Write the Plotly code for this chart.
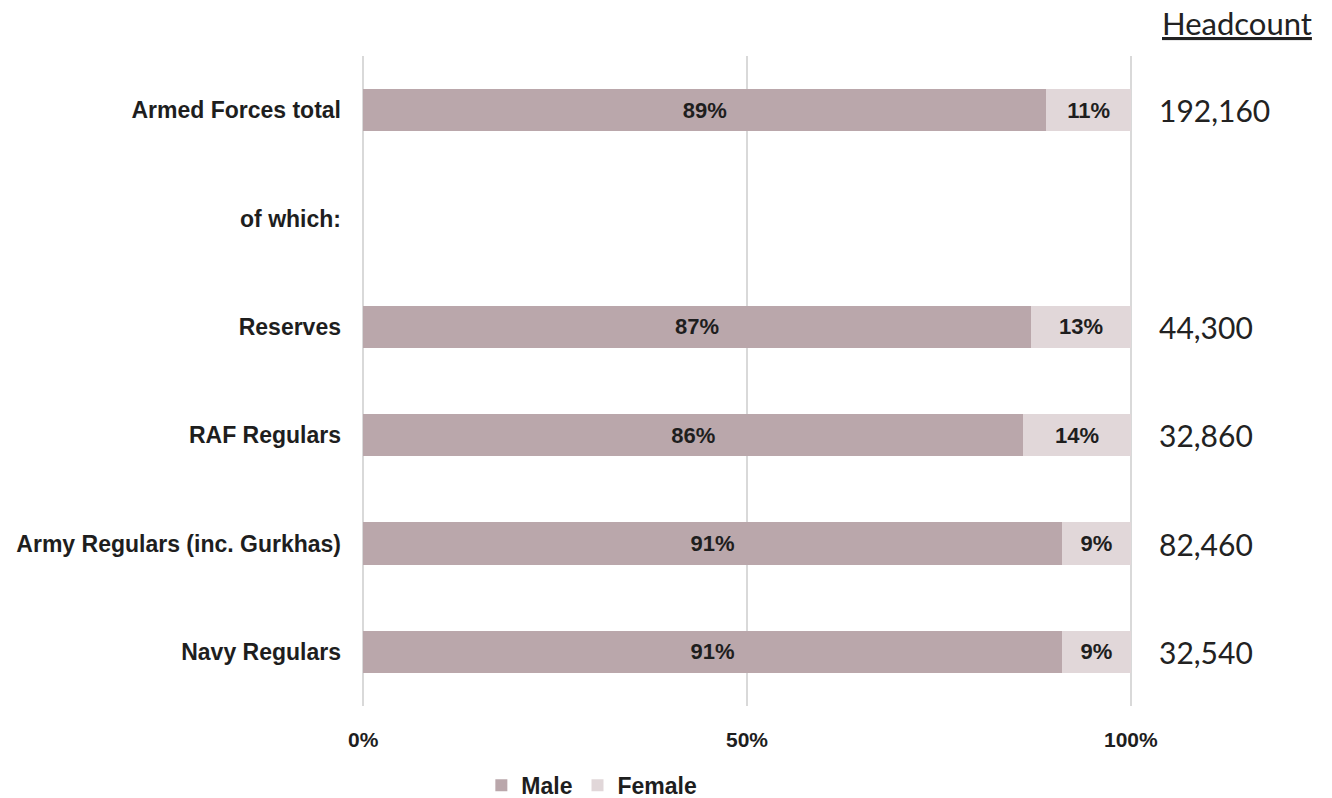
import plotly.graph_objects as go

categories = ["Armed Forces total", "of which:", "Reserves", "RAF Regulars",
              "Army Regulars (inc. Gurkhas)", "Navy Regulars"]
male = [89, None, 87, 86, 91, 91]
female = [11, None, 13, 14, 9, 9]
headcount = ["192,160", "", "44,300", "32,860", "82,460", "32,540"]
x_ticks = [0, 50, 100]
x_tick_labels = ["0%", "50%", "100%"]

MALE_C = "#BAA7AB"
FEMALE_C = "#E1D7D9"
BOLD = "Liberation Sans, Arial, sans-serif"

fig = go.Figure()
for name, vals, col in [("Male", male, MALE_C), ("Female", female, FEMALE_C)]:
    fig.add_trace(go.Bar(
        name=f"<b>{name}</b>", y=categories, x=vals, orientation="h", marker_color=col,
        marker_line_width=0, width=0.39,
        text=[f"<b>{v}%</b>" if v is not None else "" for v in vals],
        textposition="inside", insidetextanchor="middle", textangle=0,
        constraintext="none",
        textfont=dict(family=BOLD, size=22, color="#1e1e1e"),
        hoverinfo="skip",
    ))

for c, h in zip(categories, headcount):
    if h:
        fig.add_annotation(x=1.032, xref="paper", y=c, yref="y", text=h,
                           showarrow=False, xanchor="left", yanchor="middle",
                           font=dict(family="Lato, sans-serif", size=30, color="#222222"))

fig.add_annotation(x=1.236, xref="paper", y=1.05, yref="paper",
                   text='<span style="text-decoration:underline">Headcount</span>',
                   showarrow=False, xanchor="right", yanchor="middle",
                   font=dict(family="Lato, sans-serif", size=31, color="#222222"))

fig.update_layout(
    barmode="stack",
    width=1332, height=798,
    margin=dict(l=362, r=200, t=56, b=92, autoexpand=False),
    plot_bgcolor="white", paper_bgcolor="white",
    showlegend=True,
    legend=dict(orientation="h", x=0.155, xanchor="left", y=-0.122, yanchor="middle",
                font=dict(family=BOLD, size=23, color="#1e1e1e"),
                itemwidth=30, traceorder="normal", bgcolor="rgba(0,0,0,0)"),
    xaxis=dict(range=[-0.15, 100.15], tickvals=x_ticks,
               ticktext=[f"<b>{t}</b>" for t in x_tick_labels],
               showgrid=True, gridcolor="#D9D9D9", gridwidth=1.5,
               zeroline=False, showline=False, ticks="",
               ticklabelstandoff=19,
               tickfont=dict(family=BOLD, size=21, color="#1e1e1e"), fixedrange=True),
    yaxis=dict(type="category", categoryorder="array", categoryarray=categories,
               autorange="reversed", showgrid=False, zeroline=False, showline=False,
               ticks="", ticklabelstandoff=20,
               tickvals=categories, ticktext=[f"<b>{c}</b>" for c in categories],
               tickfont=dict(family=BOLD, size=23, color="#1e1e1e"), fixedrange=True),
)

fig.write_html("out.html")
